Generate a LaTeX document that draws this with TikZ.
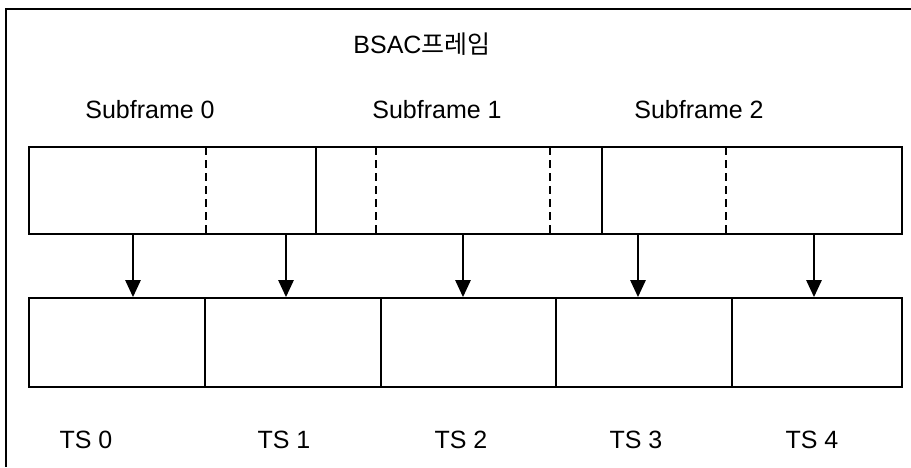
\documentclass[tikz,border=0pt]{standalone}
\usepackage{fontspec}
\setmainfont{Liberation Sans}
\newfontfamily\krfont{Noto Sans CJK KR}
\usepackage{tikz}
\usetikzlibrary{arrows.meta, positioning}

\begin{document}
\begin{tikzpicture}[x=1pt, y=-1pt,
    slot/.style={rectangle, draw, line width=1.7pt, inner sep=0pt, minimum height=87pt},
    tsbox/.style={rectangle, draw, line width=1.7pt, inner sep=0pt, minimum height=89pt},
    label/.style={font=\fontsize{25}{28}\selectfont, inner sep=0pt},
    divider/.style={line width=1.9pt, dash pattern=on 8pt off 5pt},
    arrow/.style={-{Triangle[width=15pt, length=17pt]}, line width=2.6pt}
]
\useasboundingbox (0,0) rectangle (911,467);
% cut-off outer frame
\draw[line width=1.8pt] (911,9) -- (6,9) -- (6,467);

\node[label] (title) at (422,44) {BSAC{\krfont 프레임}};

% upper row: subframes
\node[slot, minimum width=287pt] (sub0) at (172.5,190.5) {};
\node[slot, minimum width=286pt] (sub1) at (459,190.5) {};
\node[slot, minimum width=300pt] (sub2) at (752,190.5) {};
\node[label] (lab0) at (150,110) {Subframe 0};
\node[label] (lab1) at (437,110) {Subframe 1};
\node[label] (lab2) at (699,110) {Subframe 2};
\draw[divider] (206,147) -- (206,234);
\draw[divider] (376,147) -- (376,234);
\draw[divider] (550,147) -- (550,234);
\draw[divider] (726,147) -- (726,234);

% lower row: time slots
\node[tsbox, minimum width=176pt] (ts0) at (117,342.5) {};
\node[tsbox, minimum width=176pt] (ts1) at (293,342.5) {};
\node[tsbox, minimum width=175pt] (ts2) at (468.5,342.5) {};
\node[tsbox, minimum width=176pt] (ts3) at (644,342.5) {};
\node[tsbox, minimum width=170pt] (ts4) at (817,342.5) {};
\node[label] (tl0) at (86,440) {TS 0};
\node[label] (tl1) at (284,440) {TS 1};
\node[label] (tl2) at (461,440) {TS 2};
\node[label] (tl3) at (636,440) {TS 3};
\node[label] (tl4) at (812,440) {TS 4};

% mapping arrows
\coordinate (s0) at (133,234);
\coordinate (s1) at (286,234);
\coordinate (s2) at (463,234);
\coordinate (s3) at (638,234);
\coordinate (s4) at (814,234);
\draw[arrow] (s0) -- (s0 |- ts0.north);
\draw[arrow] (s1) -- (s1 |- ts1.north);
\draw[arrow] (s2) -- (s2 |- ts2.north);
\draw[arrow] (s3) -- (s3 |- ts3.north);
\draw[arrow] (s4) -- (s4 |- ts4.north);
\end{tikzpicture}
\end{document}
